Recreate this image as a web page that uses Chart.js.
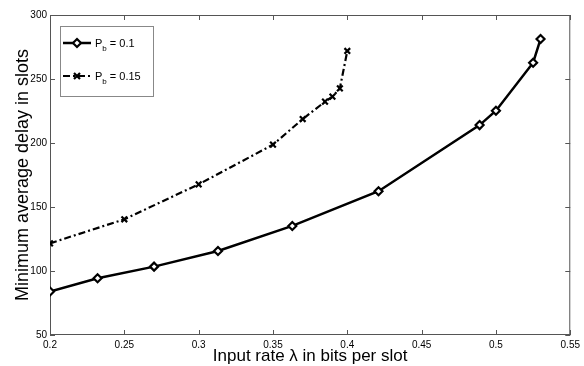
<!DOCTYPE html>
<html><head><meta charset="utf-8">
<style>html,body{margin:0;padding:0;background:#fff}#wrap{width:584px;height:366px}</style>
<script src="https://cdn.jsdelivr.net/npm/chart.js@4/dist/chart.umd.min.js"></script>
</head><body><div id="wrap"><canvas id="c" width="584" height="366"></canvas></div>
<script>
const seriesNames = ['0.1', '0.15'];
const lambda1 = [0.2, 0.232, 0.27, 0.313, 0.363, 0.421, 0.489, 0.5, 0.525, 0.53];
const delay1 = [84, 94.3, 103.4, 115.6, 135.2, 162.3, 214, 225.2, 262.7, 281.2];
const lambda2 = [0.2, 0.25, 0.3, 0.35, 0.37, 0.385, 0.39, 0.395, 0.4];
const delay2 = [121.6, 140.4, 167.7, 198.7, 218.7, 232.3, 236.2, 242.7, 271.9];
const xTicks = [0.2, 0.25, 0.3, 0.35, 0.4, 0.45, 0.5, 0.55];
const yTicks = [50, 100, 150, 200, 250, 300];
const xTitle = 'Input rate \u03bb in bits per slot';
const yTitle = 'Minimum average delay in slots';

const FONT = "'Liberation Sans', Arial, sans-serif";
const toXY = (xs, ys) => xs.map((x, i) => ({x: x, y: ys[i]}));

const frame = {
  id: 'frame',
  beforeDatasetsDraw(chart) {
    const {ctx, chartArea: a, scales: {x, y}} = chart;
    ctx.save();
    ctx.strokeStyle = '#555';
    ctx.lineWidth = 1;
    ctx.strokeRect(a.left + 0.5, a.top + 0.5, a.right - a.left - 1, a.bottom - a.top - 1);
    ctx.beginPath();
    const L = 5;
    xTicks.forEach(v => {
      const p = Math.round(x.getPixelForValue(v)) + 0.5;
      ctx.moveTo(p, a.bottom); ctx.lineTo(p, a.bottom - L);
      ctx.moveTo(p, a.top); ctx.lineTo(p, a.top + L);
    });
    yTicks.forEach(v => {
      const p = Math.round(y.getPixelForValue(v)) + 0.5;
      ctx.moveTo(a.left, p); ctx.lineTo(a.left + L, p);
      ctx.moveTo(a.right, p); ctx.lineTo(a.right - L, p);
    });
    ctx.stroke();
    ctx.restore();
  }
};

function drawMarker(ctx, style, cx, cy, r) {
  ctx.beginPath();
  if (style === 'rectRot') {
    ctx.moveTo(cx, cy - r); ctx.lineTo(cx + r, cy); ctx.lineTo(cx, cy + r); ctx.lineTo(cx - r, cy); ctx.closePath();
    ctx.fillStyle = '#fff'; ctx.fill(); ctx.stroke();
  } else {
    const d = r * 0.75;
    ctx.moveTo(cx - d, cy - d); ctx.lineTo(cx + d, cy + d);
    ctx.moveTo(cx + d, cy - d); ctx.lineTo(cx - d, cy + d);
    ctx.stroke();
  }
}

const legendBox = {
  id: 'legendBox',
  afterDraw(chart) {
    const {ctx, chartArea: a} = chart;
    const bx = a.left + 10, by = a.top + 11, bw = 93, bh = 70;
    ctx.save();
    ctx.fillStyle = '#fff';
    ctx.fillRect(bx, by, bw, bh);
    ctx.strokeStyle = '#888';
    ctx.lineWidth = 1;
    ctx.strokeRect(bx + 0.5, by + 0.5, bw, bh);
    chart.data.datasets.forEach((ds, i) => {
      const iy = by + 17 + i * 33;
      ctx.strokeStyle = '#000';
      ctx.lineWidth = ds.borderWidth;
      ctx.setLineDash(ds.borderDash || []);
      ctx.beginPath(); ctx.moveTo(bx + 3, iy); ctx.lineTo(bx + 31, iy); ctx.stroke();
      ctx.setLineDash([]);
      ctx.lineWidth = ds.pointBorderWidth;
      drawMarker(ctx, ds.pointStyle, bx + 17, iy, 4);
      ctx.fillStyle = '#000';
      ctx.textBaseline = 'alphabetic';
      ctx.textAlign = 'left';
      let tx = bx + 35;
      ctx.font = '11px ' + FONT;
      ctx.fillText('P', tx, iy + 4);
      tx += ctx.measureText('P').width;
      ctx.font = '8px ' + FONT;
      ctx.fillText('b', tx, iy + 8);
      tx += ctx.measureText('b').width;
      ctx.font = '11px ' + FONT;
      ctx.fillText(' = ' + seriesNames[i], tx, iy + 4);
    });
    ctx.restore();
  }
};

new Chart(document.getElementById('c'), {
  type: 'line',
  data: {
    datasets: [
      {
        label: 'Pb = ' + seriesNames[0],
        data: toXY(lambda1, delay1),
        borderColor: '#000', borderWidth: 2.5,
        pointStyle: 'rectRot', pointRadius: 4, pointBorderWidth: 2.2,
        pointBackgroundColor: '#fff', pointBorderColor: '#000',
        tension: 0, fill: false
      },
      {
        label: 'Pb = ' + seriesNames[1],
        data: toXY(lambda2, delay2),
        borderColor: '#000', borderWidth: 2.2, borderDash: [7, 3, 2, 3],
        pointStyle: 'crossRot', pointRadius: 4, pointBorderWidth: 2.2,
        pointBorderColor: '#000',
        tension: 0, fill: false
      }
    ]
  },
  options: {
    responsive: false, animation: false, devicePixelRatio: 1,
    layout: {padding: {top: 15, right: 12, left: 0, bottom: 0}},
    plugins: {legend: {display: false}, tooltip: {enabled: false}},
    scales: {
      x: {
        type: 'linear', min: 0.2, max: 0.55,
        afterBuildTicks: s => { s.ticks = xTicks.map(v => ({value: v})); },
        afterFit: s => { s.height = 31; },
        grid: {display: false, drawTicks: false},
        border: {display: false},
        ticks: {color: '#000', font: {family: FONT, size: 10}, padding: 4, maxRotation: 0, autoSkip: false,
                callback: v => String(Number(v.toFixed(2)))},
        title: {display: true, text: xTitle, color: '#000', font: {family: FONT, size: 17, lineHeight: 1}, padding: {top: 0, bottom: 1}}
      },
      y: {
        type: 'linear', min: 50, max: 300,
        afterBuildTicks: s => { s.ticks = yTicks.map(v => ({value: v})); },
        afterFit: s => { s.width = 50; },
        grid: {display: false, drawTicks: false},
        border: {display: false},
        ticks: {color: '#000', font: {family: FONT, size: 10}, padding: 3, autoSkip: false},
        title: {display: true, text: yTitle, color: '#000', font: {family: FONT, size: 18, lineHeight: 1}, padding: {top: 14, bottom: 0}}
      }
    }
  },
  plugins: [frame, legendBox]
});
</script></body></html>
